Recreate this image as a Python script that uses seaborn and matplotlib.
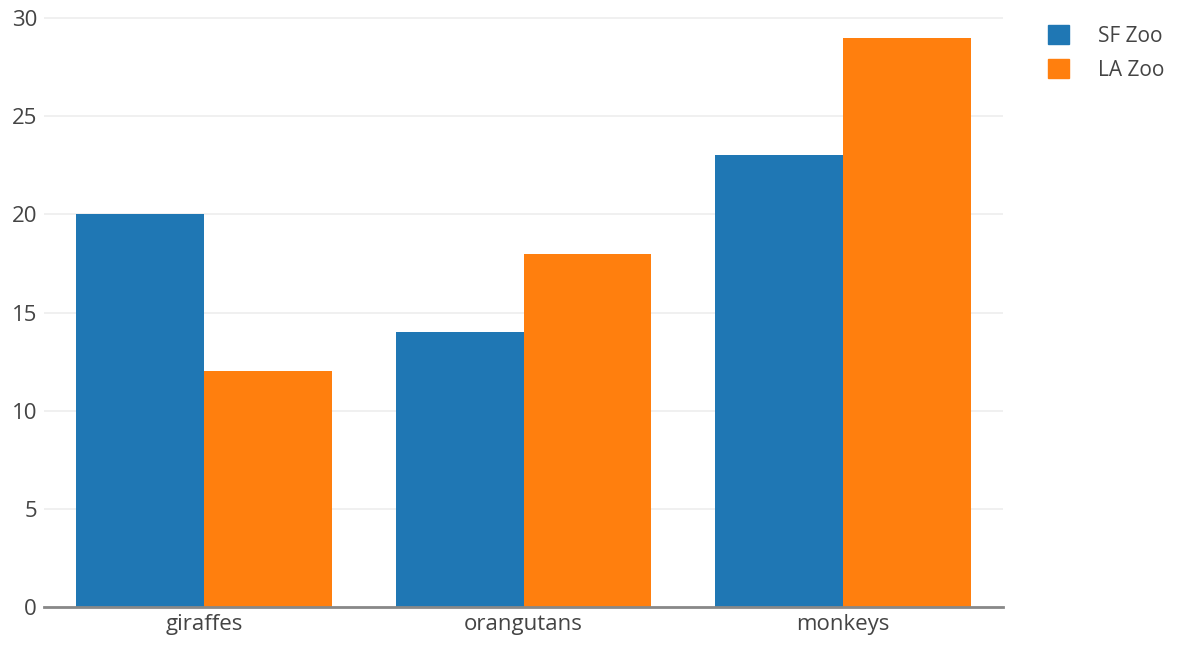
import matplotlib
matplotlib.use("Agg")
import matplotlib.pyplot as plt
import matplotlib.patches as mpatches
import pandas as pd
import seaborn as sns

animals = ["giraffes", "orangutans", "monkeys"]
sf_zoo = [20, 14, 23]
la_zoo = [12, 18, 29]
series_names = ["SF Zoo", "LA Zoo"]
colors = ["#1f77b4", "#ff7f0e"]
y_ticks = [0, 5, 10, 15, 20, 25, 30]

df = pd.DataFrame({
    "animal": animals * 2,
    "count": sf_zoo + la_zoo,
    "zoo": [series_names[0]] * 3 + [series_names[1]] * 3,
})

sns.set_style("white")
plt.rcParams["font.family"] = ["Open Sans", "DejaVu Sans"]

fig = plt.figure(figsize=(11.82, 6.49), dpi=100)
ax = fig.add_axes([0.0372, 0.0647, 0.8114, 0.9226])

sns.barplot(data=df, x="animal", y="count", hue="zoo", palette=colors,
            width=0.8, gap=0, saturation=1, linewidth=0, ax=ax, legend=False)

ax.set_ylim(0, 30.5)
ax.set_xlim(-0.5, 2.5)
ax.set_yticks(y_ticks)
ax.yaxis.grid(True, color="#eeeeee", linewidth=1.2)
ax.set_axisbelow(True)
for s in ["top", "right", "left"]:
    ax.spines[s].set_visible(False)
ax.spines["bottom"].set_color("#888888")
ax.spines["bottom"].set_linewidth(2)
ax.tick_params(axis="both", length=0, labelsize=16, labelcolor="#444444")
ax.tick_params(axis="y", pad=5)
ax.tick_params(axis="x", pad=5)
ax.set_xlabel("")
ax.set_ylabel("")

# legend sits outside the plot area, top right
handles = [mpatches.Patch(color=c, label=n) for c, n in zip(colors, series_names)]
leg = fig.legend(handles=handles, loc="upper left", bbox_to_anchor=(0.871, 0.99),
                 frameon=False, fontsize=15, handlelength=1.0, handleheight=1.0,
                 handletextpad=1.4, labelspacing=0.6, labelcolor="#444444")

fig.savefig("out.png", dpi=100)
